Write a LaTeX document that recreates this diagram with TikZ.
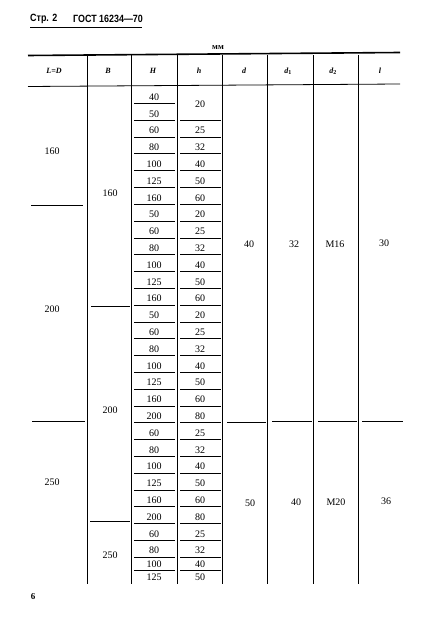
\documentclass[tikz,border=0pt]{standalone}
\usepackage{fontspec}
\setmainfont{Liberation Serif}
\newfontfamily\hdrfont[FakeStretch=0.85]{Liberation Sans}
\begin{document}
\begin{tikzpicture}[x=1pt,y=-1pt,
  num/.style={font=\fontsize{10}{10}\selectfont, inner sep=0pt, anchor=center},
  hd/.style={font=\fontsize{8}{8}\selectfont\bfseries\itshape, inner sep=0pt},
  rule/.style={line width=0.8pt},
  vrule/.style={line width=0.9pt}]
\useasboundingbox[fill=white] (0,0) rectangle (426,631);
% page header
\node[font=\hdrfont\bfseries\fontsize{10.5}{12}\selectfont, anchor=west, inner sep=0pt] (title1) at (30,19) {Стр. 2};
\node[font=\hdrfont\bfseries\fontsize{10.5}{12}\selectfont, anchor=west, inner sep=0pt] (title2) at (73,19) {ГОСТ 16234—70};
\draw[line width=1pt] (30,27.5) -- (142,27.5);
\node[font=\fontsize{8.5}{9}\selectfont\bfseries, inner sep=0pt] (mm) at (218,48) {мм};
% table frame
\draw[line width=1.6pt] (28,55.5) -- (400,52.5);
\draw[rule] (28,86.5) -- (400,84);
\foreach \x in {87,131,177,222,267.5,313,358}
  \draw[vrule] (\x,55) -- (\x,584);
% column headers
\node[hd] (hL)  at (54,71) {L=D};
\node[hd] (hB)  at (108,71) {B};
\node[hd] (hH)  at (153,71) {H};
\node[hd] (hh)  at (199,71) {h};
\node[hd] (hd)  at (244,71) {d};
\node[hd] (hd1) at (288,71) {d\textsubscript{\upshape 1}};
\node[hd] (hd2) at (333,71) {d\textsubscript{\upshape 2}};
\node[hd] (hl)  at (380,71) {l};
% H and h columns
\foreach \Hv/\hv [count=\i from 0] in {40/20,50/20,60/25,80/32,100/40,125/50,160/60,50/20,60/25,80/32,100/40,125/50,160/60,50/20,60/25,80/32,100/40,125/50,160/60,200/80,60/25,80/32,100/40,125/50,160/60,200/80,60/25,80/32,100/40,125/50}{
  \pgfmathsetmacro\yb{\i<28 ? 86.7+16.8*(\i+1) : (\i==28 ? 570.5 : 584)}
  \node[num] (H\i) at (154,\yb-6.5) {\Hv};
  \ifnum\i>1 \node[num] (h\i) at (200,\yb-6.5) {\hv}; \fi
  \ifnum\i<29
    \draw[rule] (134,\yb) -- (175,\yb);
    \ifnum\i>0 \draw[rule] (180,\yb) -- (221,\yb); \fi
  \fi
}
\node[num] (h0) at (200,104) {20};
% L=D column
\node[num] (L1) at (52,151) {160};
\node[num] (L2) at (52,309) {200};
\node[num] (L3) at (52,482) {250};
\draw[rule] (31,205) -- (83,205);
\draw[rule] (32,421) -- (85,421);
% B column
\node[num] (B1) at (110,193) {160};
\node[num] (B2) at (110,410) {200};
\node[num] (B3) at (110,555) {250};
\draw[rule] (91,306) -- (130,306);
\draw[rule] (90,521.5) -- (130,521.5);
% right columns
\node[num] (d1)  at (249,244) {40};
\node[num] (da1) at (294,244) {32};
\node[num] (db1) at (335,244) {M16};
\node[num] (l1)  at (384,243) {30};
\draw[rule] (227,422) -- (266,422);
\draw[rule] (272,421.5) -- (312,421.5);
\draw[rule] (318,421.5) -- (357,421.5);
\draw[rule] (362,421.5) -- (403,421.5);
\node[num] (d2)  at (250,503) {50};
\node[num] (da2) at (296,502) {40};
\node[num] (db2) at (336,502) {M20};
\node[num] (l2)  at (386,501) {36};
% page number
\node[font=\fontsize{9}{10}\selectfont\bfseries, inner sep=0pt] (pg) at (33,597) {6};
\end{tikzpicture}
\end{document}
